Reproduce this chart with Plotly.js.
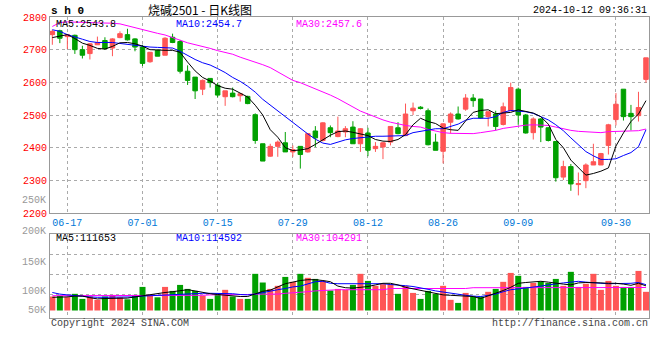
<!DOCTYPE html>
<html><head><meta charset="utf-8">
<script src="https://cdn.plot.ly/plotly-3.0.1.min.js"></script>
<style>html,body{margin:0;padding:0;background:#fff}#chart{width:660px;height:360px}</style>
</head><body><div id="chart"></div>
<script>
const dates = ['06-13','06-14','06-17','06-18','06-19','06-20','06-21','06-24','06-25','06-26','06-27','06-28',
'07-01','07-02','07-03','07-04','07-05','07-08','07-09','07-10','07-11','07-12',
'07-15','07-16','07-17','07-18','07-19','07-22','07-23','07-24','07-25','07-26',
'07-29','07-30','07-31','08-01','08-02','08-05','08-06','08-07','08-08','08-09',
'08-12','08-13','08-14','08-15','08-16','08-19','08-20','08-21','08-22','08-23',
'08-26','08-27','08-28','08-29','08-30','09-02','09-03','09-04','09-05','09-06',
'09-09','09-10','09-11','09-12','09-13','09-18','09-19','09-20',
'09-23','09-24','09-25','09-26','09-27','09-30',
'10-08','10-09','10-10','10-11'];

const openP = [2746,2758,2740,2744,2700,2688,2715,2728,2705,2737,2746,2733,2708,2663,2698,2683,2738,2725,2634,2616,
2579,2612,2591,2556,2567,2559,2557,2501,2412,2374,2404,2415,2387,2404,2387,2451,2422,2461,2434,2448,
2463,2412,2445,2397,2402,2417,2461,2437,2513,2524,2513,2417,2389,2478,2503,2518,2552,2549,2495,2503,
2471,2513,2579,2500,2446,2488,2461,2419,2310,2342,2287,2299,2347,2347,2407,2486,2579,2505,2498,2609];
const highP = [2761,2761,2746,2746,2712,2720,2740,2738,2735,2756,2764,2735,2715,2693,2700,2738,2749,2730,2652,2616,
2609,2612,2599,2574,2584,2567,2559,2505,2412,2412,2422,2448,2407,2404,2445,2466,2478,2468,2495,2466,
2481,2460,2461,2417,2417,2465,2478,2535,2538,2527,2520,2443,2475,2508,2526,2564,2564,2549,2510,2513,
2538,2599,2584,2503,2493,2491,2463,2419,2360,2350,2324,2352,2412,2384,2473,2567,2579,2531,2571,2675];
const lowP = [2715,2720,2702,2687,2673,2670,2715,2700,2680,2735,2728,2695,2650,2660,2680,2683,2720,2627,2592,2549,
2561,2584,2554,2528,2554,2541,2533,2412,2359,2372,2372,2387,2372,2336,2385,2402,2419,2432,2432,2432,
2412,2387,2374,2387,2365,2407,2441,2437,2500,2517,2407,2392,2352,2443,2486,2513,2525,2488,2465,2453,
2468,2513,2470,2443,2425,2417,2419,2296,2301,2268,2254,2276,2347,2347,2379,2468,2483,2453,2480,2599];
const closeP = [2756,2735,2746,2700,2683,2718,2722,2703,2733,2749,2730,2708,2658,2692,2680,2735,2722,2634,2606,2574,
2606,2599,2561,2574,2556,2565,2535,2422,2359,2404,2417,2387,2394,2379,2443,2430,2476,2446,2451,2458,
2412,2458,2392,2404,2415,2465,2443,2503,2521,2520,2409,2392,2473,2503,2488,2552,2544,2491,2510,2465,
2525,2584,2500,2445,2488,2463,2422,2308,2342,2289,2290,2347,2357,2382,2470,2533,2495,2495,2523,2675];

const ma5 = [2737,2741,2746,2734,2720,2713,2704,2702,2710,2721,2722,2718,2711,2700,2698,2698,2698,2692,2662,2635,
2615,2604,2590,2582,2579,2566,2555,2530,2500,2455,2432,2400,2391,2393,2397,2410,2424,2438,2449,2451,
2447,2442,2437,2425,2420,2419,2425,2440,2470,2490,2480,2474,2460,2455,2453,2482,2508,2514,2516,2504,
2505,2508,2516,2510,2506,2495,2472,2425,2400,2362,2340,2316,2321,2328,2338,2405,2445,2480,2503,2544];
const ma10 = [2761,2756,2746,2738,2732,2725,2722,2722,2722,2719,2716,2713,2709,2708,2707,2706,2705,2695,2682,2670,
2660,2653,2642,2630,2615,2603,2588,2570,2548,2530,2512,2495,2477,2458,2442,2426,2414,2410,2418,2424,
2428,2431,2433,2435,2435,2435,2436,2437,2446,2450,2456,2458,2458,2464,2472,2484,2490,2490,2490,2495,
2508,2514,2512,2510,2505,2495,2485,2470,2452,2430,2408,2388,2375,2364,2364,2366,2376,2385,2403,2455];
const ma30 = [2771,2783,2785,2785,2784,2783,2782,2782,2781,2779,2773,2766,2760,2755,2750,2745,2738,2729,2721,2716,
2711,2704,2697,2692,2686,2677,2670,2663,2654,2645,2632,2619,2606,2599,2590,2579,2570,2561,2550,2538,
2525,2512,2503,2493,2485,2478,2472,2468,2465,2463,2456,2450,2446,2444,2443,2443,2443,2446,2449,2453,
2459,2463,2467,2469,2470,2470,2468,2463,2457,2453,2450,2449,2446,2446,2449,2450,2450,2450,2452,2457];

const volume = [85000,86700,83400,91700,79000,85000,76700,85000,89000,83000,78000,89000,109000,89000,83000,109000,99000,114000,104000,99000,
87000,79000,91700,101700,85000,79000,79000,141700,120000,104000,111700,134000,121700,141700,131700,129000,124000,100000,104000,101700,
114000,141700,124000,111700,116000,116000,91700,111700,94000,79000,99000,91700,111700,76700,69000,94000,85000,85000,96700,104000,
121700,144000,136700,109000,119000,122500,119000,129000,111700,146700,109000,116700,141700,101700,124000,111700,109000,109000,149000,96700];
const volMa5 = [83000,83000,84000,86000,86000,82000,79000,80000,80000,81000,81000,84000,87000,90000,93000,95000,97000,99000,102000,99000,
95000,92000,90000,88000,86000,85000,85000,92000,98000,101000,109000,117000,121000,125000,127000,127000,125000,122000,111000,107000,
106000,108000,110000,114000,118000,118000,114000,108000,104000,100000,96000,92000,89000,88000,87000,87000,85000,80000,86000,93000,
100000,108000,118000,120000,122000,123000,121000,118000,116000,114000,119000,120000,120000,119000,118000,118000,116000,113000,118000,111653];
const volMa10 = [95000,91000,89000,87000,85000,84000,83000,83000,83000,83000,83000,84000,86000,87000,88000,89000,90000,91000,92000,93000,
93000,93000,93000,93000,92000,90000,89000,91000,95000,99000,102000,105000,109000,111000,116000,122000,123000,118000,117000,117000,
118000,118000,118000,118000,117000,115000,114000,112000,110000,107000,103000,99000,96000,93000,90000,88000,86000,85000,88000,91000,
97000,102000,104000,106000,108000,111000,114000,117000,119000,121000,123000,121000,119000,118000,117000,117000,117000,118000,120000,114592];
const volMa30 = [87000,87000,87000,87000,87000,87000,87000,87000,87000,87000,87000,87000,87000,87000,88000,88000,88000,88000,88000,88000,
88000,89000,89000,89000,89000,89000,90000,91000,91000,91000,91000,93000,94000,95000,97000,99000,100000,102000,102000,102000,
102000,102000,102000,102000,102000,105000,105000,105000,105000,105000,105000,105000,105000,105000,105000,105000,107000,107000,107000,107000,
107000,107000,107000,107000,107000,107000,107000,107000,107000,107000,107000,107000,107000,107000,107000,107000,107000,107000,107000,107500];

const tickDates = ['06-17','07-01','07-15','07-29','08-12','08-26','09-09','09-30'];
const priceTicks = [2200,2300,2400,2500,2600,2700,2800];

const MONO = '"Liberation Mono", "DejaVu Sans Mono", monospace';
const RED = '#ff5555', GREEN = '#00a000';
const VOL_BASE = 50000;

const volColors = closeP.map((c, i) => c >= openP[i] ? RED : GREEN);

const traces = [
  {type:'candlestick', x:dates, open:openP, high:highP, low:lowP, close:closeP, xaxis:'x', yaxis:'y',
   increasing:{line:{color:RED,width:1}, fillcolor:RED},
   decreasing:{line:{color:GREEN,width:1}, fillcolor:GREEN},
   whiskerwidth:0, hoverinfo:'skip'},
  {type:'scatter', mode:'lines', x:dates, y:ma30, line:{color:'#ff00ff',width:1}, xaxis:'x', yaxis:'y', hoverinfo:'skip'},
  {type:'scatter', mode:'lines', x:dates, y:ma10, line:{color:'#0000ff',width:1}, xaxis:'x', yaxis:'y', hoverinfo:'skip'},
  {type:'scatter', mode:'lines', x:dates, y:ma5, line:{color:'#000000',width:1}, xaxis:'x', yaxis:'y', hoverinfo:'skip'},
  {type:'bar', x:dates, y:volume.map(v => v - VOL_BASE), base:VOL_BASE, width:0.8, marker:{color:volColors, line:{width:0}}, xaxis:'x2', yaxis:'y2', hoverinfo:'skip'},
  {type:'scatter', mode:'lines', x:dates, y:volMa30, line:{color:'#ff00ff',width:1}, xaxis:'x2', yaxis:'y2', hoverinfo:'skip'},
  {type:'scatter', mode:'lines', x:dates, y:volMa10, line:{color:'#0000ff',width:1}, xaxis:'x2', yaxis:'y2', hoverinfo:'skip'},
  {type:'scatter', mode:'lines', x:dates, y:volMa5, line:{color:'#000000',width:1}, xaxis:'x2', yaxis:'y2', hoverinfo:'skip'}
];

const px = x => (x - 50) / 599;
const py = y => (318 - y) / 301;
function ann(text, x, y, xanchor, color, size, family) {
  return {text:text, x:px(x), y:py(y), xref:'paper', yref:'paper', xanchor:xanchor, yanchor:'middle',
          showarrow:false, borderpad:0, font:{family:family || MONO, size:size || 10, color:color || '#000'}};
}

const gridStyle = {showgrid:true, gridcolor:'#aaaaaa', griddash:'dot', gridwidth:1,
                   showline:true, mirror:true, linecolor:'#999999', linewidth:1, zeroline:false, fixedrange:true};

const layout = {
  width:660, height:360,
  margin:{l:50, r:11, t:17, b:42, pad:0},
  paper_bgcolor:'#ffffff', plot_bgcolor:'#ffffff',
  showlegend:false, boxgap:0.15, bargap:0.2,
  xaxis: Object.assign({}, gridStyle, {type:'category', range:[-0.31, 79.4], anchor:'y', domain:[0,1],
    tickmode:'array', tickvals:tickDates, ticktext:tickDates, ticks:'', ticklen:0,
    tickfont:{family:MONO, size:10, color:'#0078d7'}, rangeslider:{visible:false}}),
  yaxis: Object.assign({}, gridStyle, {domain:[0.3488, 1], range:[2200, 2800], anchor:'x',
    tickmode:'array', tickvals:priceTicks, ticks:'', tickfont:{family:MONO, size:10, color:'#ff0000'}}),
  xaxis2: Object.assign({}, gridStyle, {type:'category', range:[-0.31, 79.4], anchor:'y2', domain:[0,1],
    tickmode:'array', tickvals:tickDates, showticklabels:false, ticks:'', rangeslider:{visible:false}}),
  yaxis2: Object.assign({}, gridStyle, {domain:[0, 0.279], range:[31250, 241250], anchor:'x2',
    tickmode:'array', tickvals:[89000, 139000, 189000], showticklabels:false, ticks:''}),
  annotations: [
    ann('<b>s h 0</b>', 50, 10.5, 'left', '#000', 11),
    ann('烧碱2501 - 日K线图', 200, 9.5, 'center', '#000', 12, '"Noto Sans CJK SC", sans-serif'),
    ann('2024-10-12 09:36:31', 648, 10.5, 'right', '#000', 10),
    ann('MA5:2543.8', 55, 24.5, 'left', '#000000', 10),
    ann('MA10:2454.7', 175, 24.5, 'left', '#0000ff', 10),
    ann('MA30:2457.6', 295, 24.5, 'left', '#ff00ff', 10),
    ann('MA5:111653', 55, 238.5, 'left', '#000000', 10),
    ann('MA10:114592', 175, 238.5, 'left', '#0000ff', 10),
    ann('MA30:104291', 295, 238.5, 'left', '#ff00ff', 10),
    ann('250K', 47, 200, 'right', '#999999', 10),
    ann('200K', 47, 231, 'right', '#999999', 10),
    ann('150K', 47, 262, 'right', '#999999', 10),
    ann('100K', 47, 291, 'right', '#999999', 10),
    ann('50K', 47, 310, 'right', '#999999', 10),
    ann('Copyright 2024 SINA.COM', 50, 323.5, 'left', '#444444', 10),
    ann('http://finance.sina.com.cn', 649, 323.5, 'right', '#444444', 10)
  ]
};

Plotly.newPlot('chart', traces, layout, {displayModeBar:false, staticPlot:true});
</script>
</body></html>
